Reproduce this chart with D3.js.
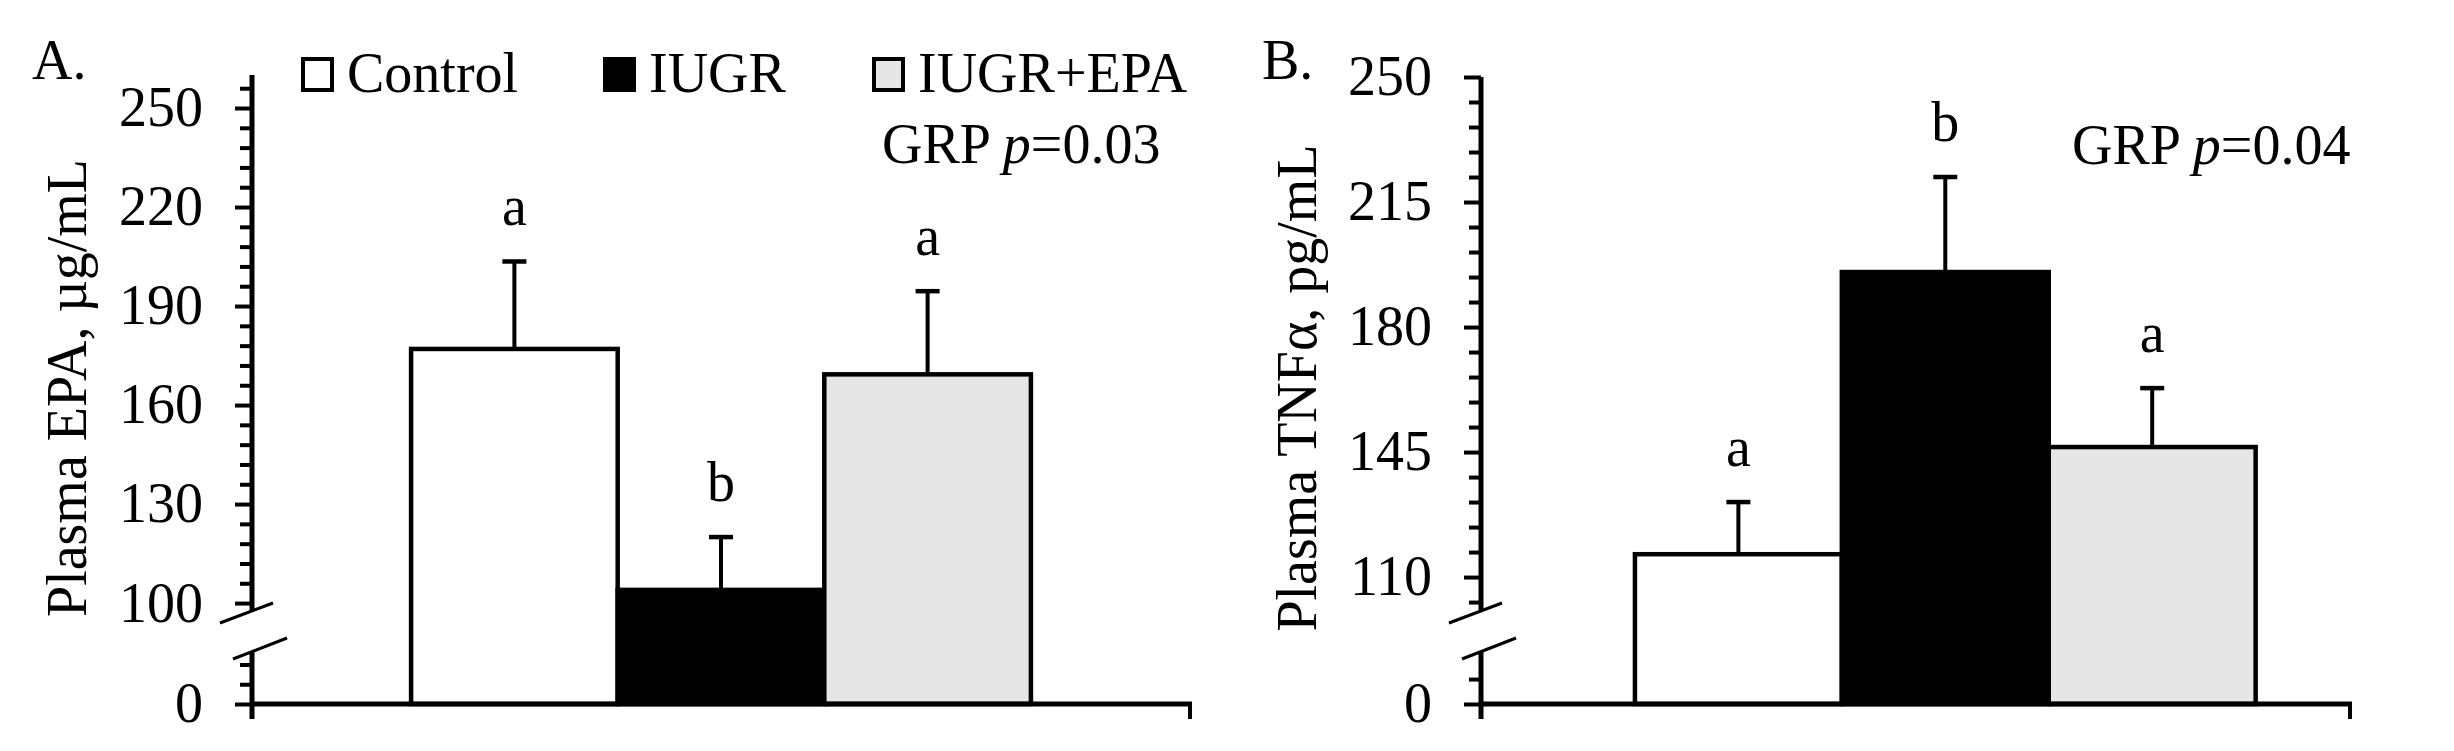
<!DOCTYPE html>
<html><head><meta charset="utf-8">
<script src="https://cdn.jsdelivr.net/npm/d3@7"></script>
<style>
body{margin:0;background:#fff}
svg text{font-family:"Liberation Serif","Times New Roman",serif;fill:#000}
</style>
</head><body>
<svg id="c" width="2454" height="751"></svg>
<script>
// ---- data ----
const groups = ["Control", "IUGR", "IUGR+EPA"];
const fills = ["#ffffff", "#000000", "#e6e6e6"];

const epaMean = [177.0, 104.0, 169.3];
const epaSE = [26.5, 16.0, 25.2];
const epaLetters = ["a", "b", "a"];
const epaTicks = [100, 130, 160, 190, 220, 250];
const epaP = "0.03";

const tnfMean = [116.4, 195.4, 146.4];
const tnfSE = [14.6, 26.6, 16.5];
const tnfLetters = ["a", "b", "a"];
const tnfTicks = [110, 145, 180, 215, 250];
const tnfP = "0.04";

// ---- layout ----
const FS = 56;
const baseY = 704;
const svg = d3.select("#c");
svg.append("rect").attr("width", 2454).attr("height", 751).attr("fill", "#fff");

const panels = [
  {label: "A.", labelX: 32, axisX: 252, endX: 1190, pad: 0.77, align: 0.5,
   upDom: [97.6, 260], upRange: [611, 75],
   loDom: [0, 15.8], minorStep: 6, minorFrom: 100, minorTo: 256, loMinor: [6, 12],
   ticks: epaTicks, mean: epaMean, se: epaSE, letters: epaLetters, p: epaP,
   title: "Plasma EPA, µg/mL", titleX: 86, pX: 882, pY: 163, legend: true},
  {label: "B.", labelX: 1262, axisX: 1481, endX: 2350, pad: 0.6, align: 0.62,
   upDom: [100.5, 250], upRange: [611, 77],
   loDom: [0, 14.6], minorStep: 7, minorFrom: 103, minorTo: 250, loMinor: [7],
   ticks: tnfTicks, mean: tnfMean, se: tnfSE, letters: tnfLetters, p: tnfP,
   title: "Plasma TNFα, pg/mL", titleX: 1316, pX: 2072, pY: 164, legend: false}
];

panels.forEach(P => {
  const g = svg.append("g");
  const yUp = d3.scaleLinear().domain(P.upDom).range(P.upRange);
  const yLo = d3.scaleLinear().domain(P.loDom).range([baseY, 652]);
  const x = d3.scaleBand().domain(groups).range([P.axisX, P.endX])
    .paddingInner(0).paddingOuter(P.pad).align(P.align);

  // bars
  g.selectAll("rect.bar").data(groups).join("rect")
    .attr("x", d => x(d)).attr("width", x.bandwidth())
    .attr("y", (d, i) => yUp(P.mean[i]))
    .attr("height", (d, i) => baseY - yUp(P.mean[i]))
    .attr("fill", (d, i) => fills[i]).attr("stroke", "#000").attr("stroke-width", 4.5);

  // error bars + letters
  groups.forEach((d, i) => {
    const cx = x(d) + x.bandwidth() / 2;
    const yt = yUp(P.mean[i] + P.se[i]);
    g.append("line").attr("x1", cx).attr("x2", cx).attr("y1", yUp(P.mean[i])).attr("y2", yt)
      .attr("stroke", "#000").attr("stroke-width", 4);
    g.append("line").attr("x1", cx - 12).attr("x2", cx + 12).attr("y1", yt).attr("y2", yt)
      .attr("stroke", "#000").attr("stroke-width", 4.5);
    g.append("text").attr("x", cx).attr("y", yt - 36).attr("text-anchor", "middle")
      .attr("font-size", FS).text(P.letters[i]);
  });

  // y axis ticks
  const axMaj = d3.axisLeft(yUp).tickValues(P.ticks).tickSize(17).tickPadding(32).tickFormat(d3.format("d"));
  const minorVals = d3.range(P.minorFrom, P.minorTo + 0.01, P.minorStep).filter(v => !P.ticks.includes(v));
  const axMin = d3.axisLeft(yUp).tickValues(minorVals).tickSize(12).tickFormat("");
  const axLoMaj = d3.axisLeft(yLo).tickValues([0]).tickSize(17).tickPadding(32).tickFormat(d3.format("d"));
  const axLoMin = d3.axisLeft(yLo).tickValues(P.loMinor).tickSize(12).tickFormat("");
  [axMaj, axMin, axLoMaj, axLoMin].forEach(a => {
    const ag = g.append("g").attr("transform", `translate(${P.axisX},0)`).call(a);
    ag.select(".domain").remove();
    ag.selectAll(".tick line").attr("stroke", "#000").attr("stroke-width", 4);
    ag.selectAll(".tick text").attr("font-size", FS).attr("font-family", '"Liberation Serif","Times New Roman",serif').attr("fill", "#000");
  });

  // axis lines (broken)
  const yBreakUp = yUp(P.upDom[0]), yBreakLo = yLo(P.loDom[1]);
  g.append("line").attr("x1", P.axisX).attr("x2", P.axisX).attr("y1", P.upRange[1]).attr("y2", yBreakUp)
    .attr("stroke", "#000").attr("stroke-width", 5);
  g.append("line").attr("x1", P.axisX).attr("x2", P.axisX).attr("y1", yBreakLo).attr("y2", baseY + 15)
    .attr("stroke", "#000").attr("stroke-width", 5);
  // break marks
  g.append("line").attr("x1", P.axisX - 32).attr("y1", yBreakUp + 12).attr("x2", P.axisX + 21).attr("y2", yBreakUp - 8)
    .attr("stroke", "#000").attr("stroke-width", 3);
  g.append("line").attr("x1", P.axisX - 19).attr("y1", yBreakLo + 7).attr("x2", P.axisX + 35).attr("y2", yBreakLo - 14)
    .attr("stroke", "#000").attr("stroke-width", 3);

  // x axis
  g.append("line").attr("x1", P.axisX).attr("x2", P.endX + 2).attr("y1", baseY).attr("y2", baseY)
    .attr("stroke", "#000").attr("stroke-width", 5);
  g.append("line").attr("x1", P.endX).attr("x2", P.endX).attr("y1", baseY).attr("y2", baseY + 15)
    .attr("stroke", "#000").attr("stroke-width", 4);

  // y title
  g.append("text").attr("transform", `translate(${P.titleX},388) rotate(-90)`)
    .attr("text-anchor", "middle").attr("font-size", FS).text(P.title);

  // panel label
  g.append("text").attr("x", P.labelX).attr("y", 79).attr("font-size", FS).text(P.label);

  // p value
  const pt = g.append("text").attr("x", P.pX).attr("y", P.pY).attr("font-size", FS);
  pt.append("tspan").text("GRP ");
  pt.append("tspan").attr("font-style", "italic").text("p");
  pt.append("tspan").text("=" + P.p);

  // legend
  if (P.legend) {
    const legX = [303, 605, 874];
    groups.forEach((d, i) => {
      g.append("rect").attr("x", legX[i]).attr("y", 59).attr("width", 29).attr("height", 31)
        .attr("fill", fills[i]).attr("stroke", "#000").attr("stroke-width", 4);
      g.append("text").attr("x", legX[i] + 44).attr("y", 92).attr("font-size", FS).text(d);
    });
  }
});
</script>
</body></html>
